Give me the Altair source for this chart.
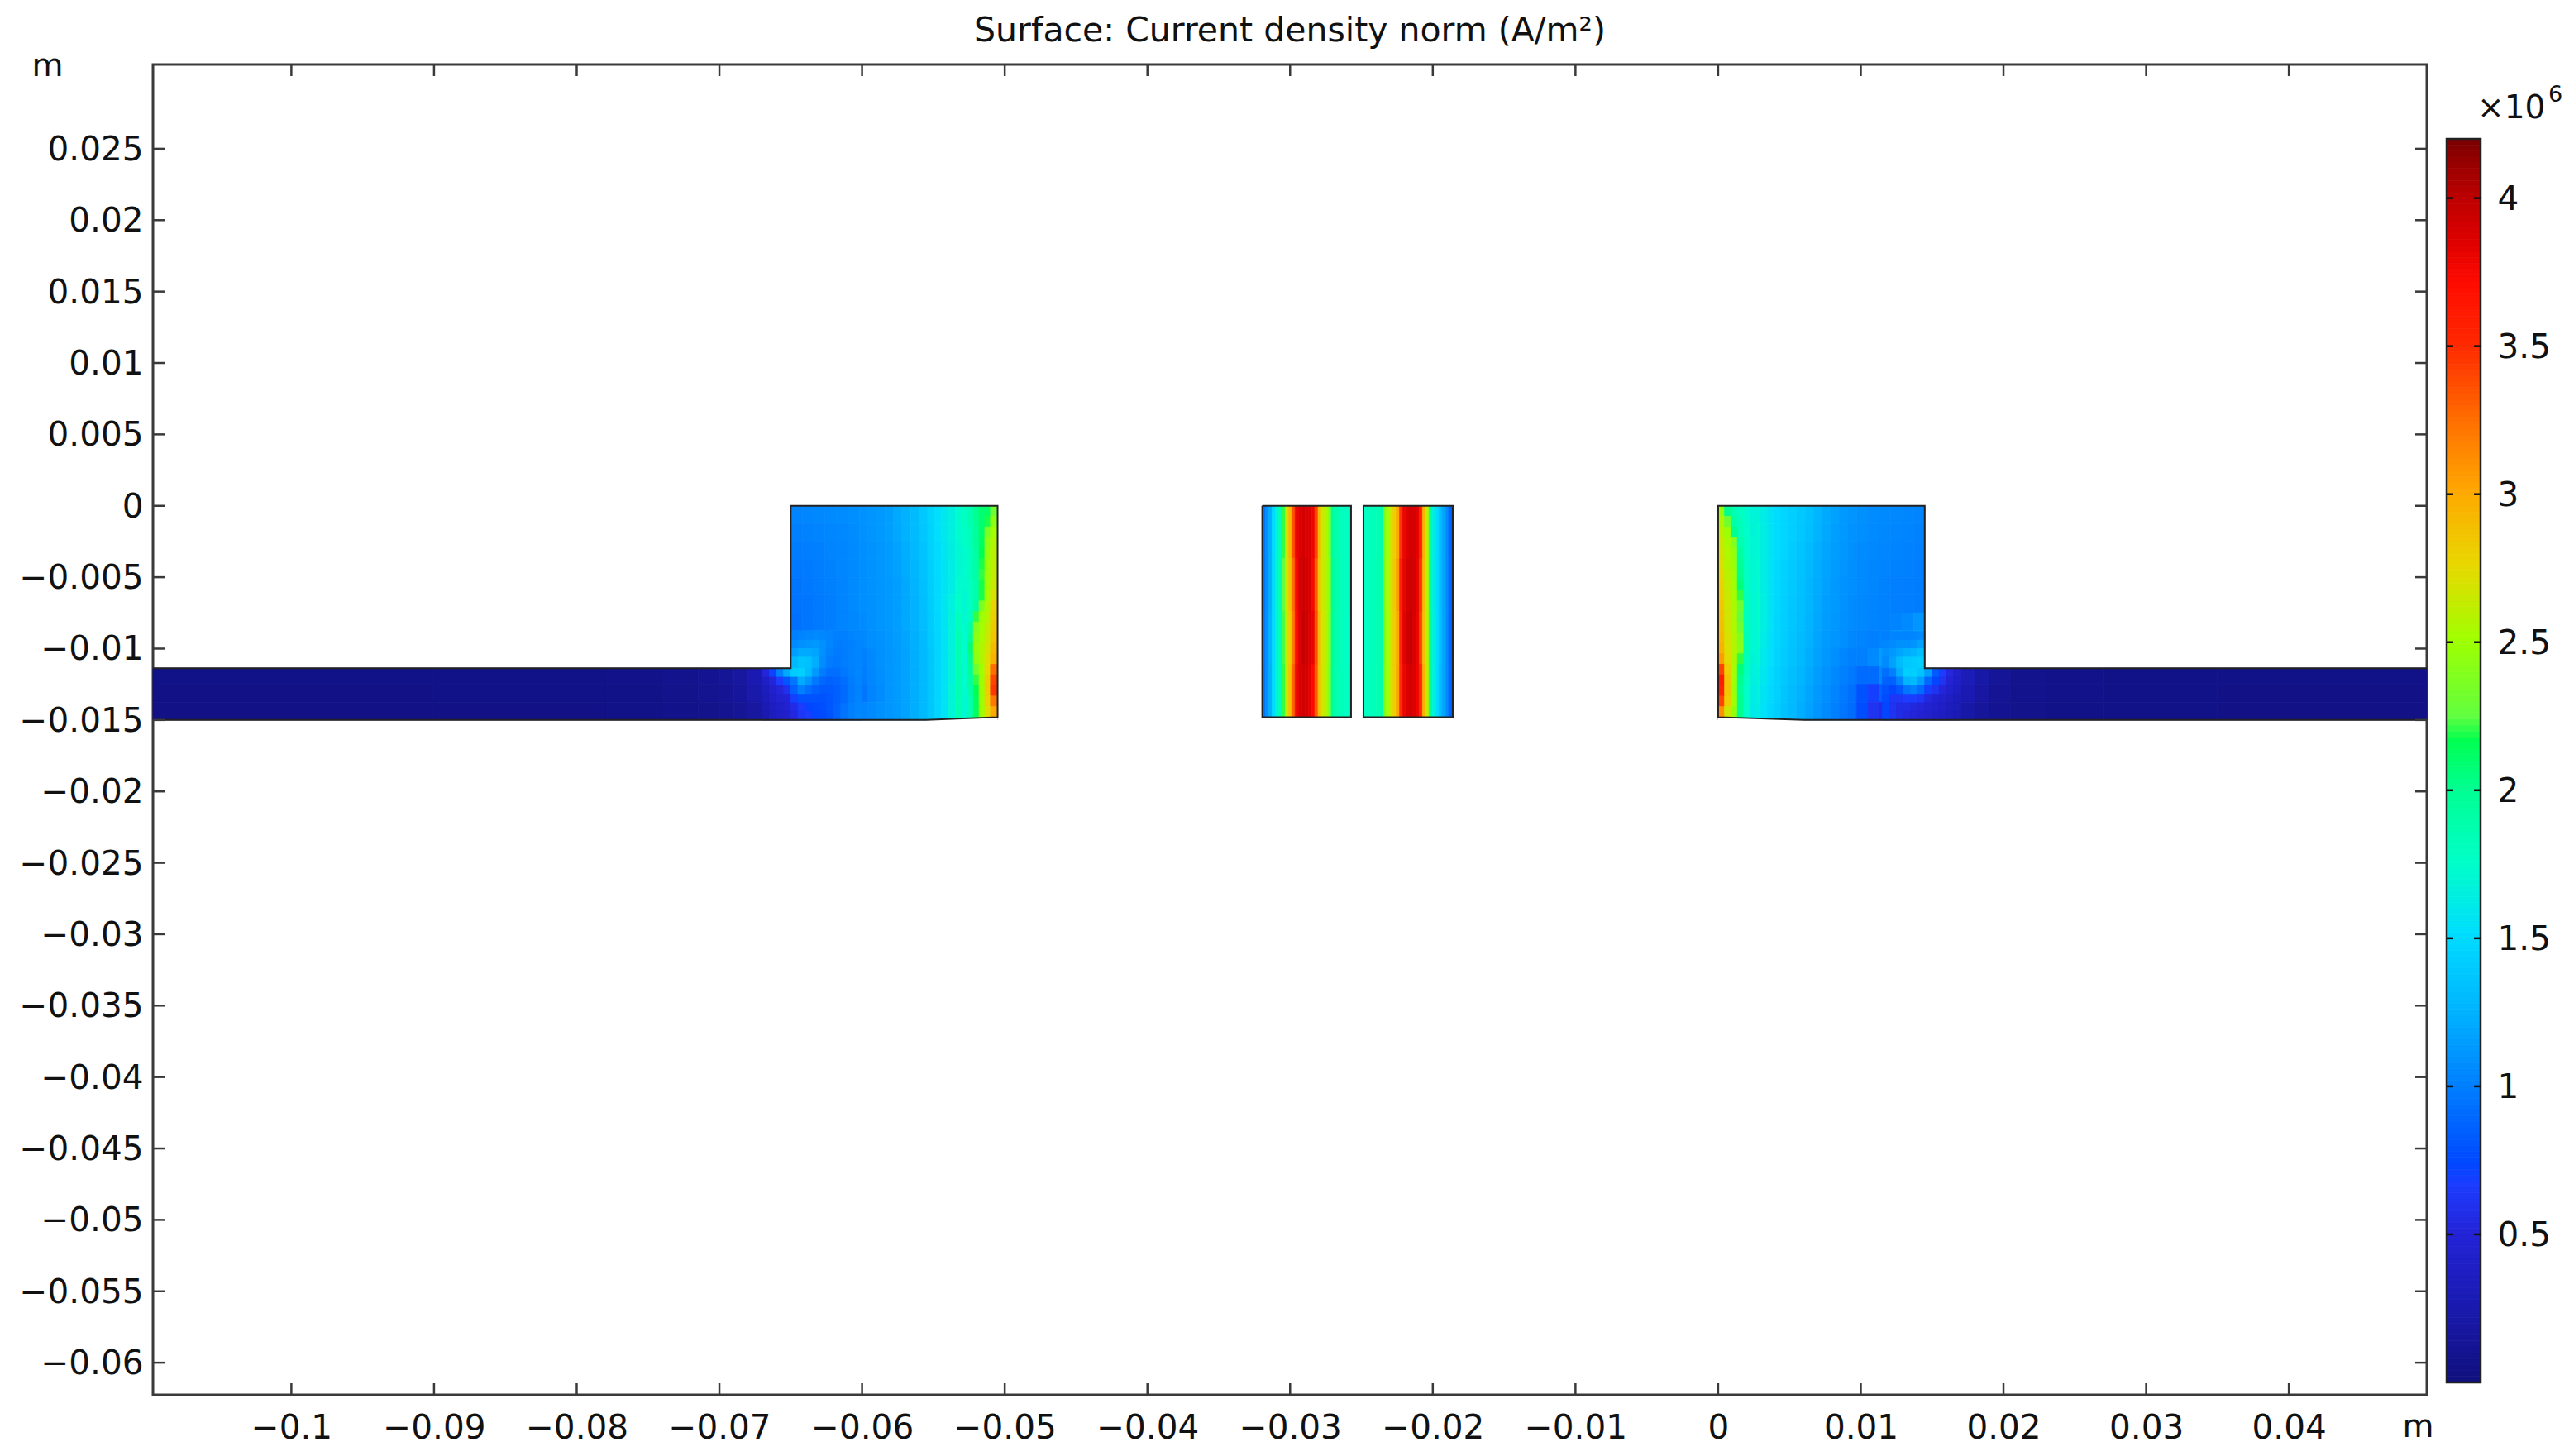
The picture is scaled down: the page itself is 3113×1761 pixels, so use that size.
import altair as alt

FONT = "DejaVu Sans"
INK = "#111111"
LINE = "#3a3a3a"
W, H = 2750, 1609

x_domain = [-0.1097, 0.04967]
y_domain = [-0.06225, 0.0309]
x_ticks = [-0.1, -0.09, -0.08, -0.07, -0.06, -0.05, -0.04, -0.03, -0.02, -0.01, 0, 0.01, 0.02, 0.03, 0.04]
y_ticks = [0.025, 0.02, 0.015, 0.01, 0.005, 0, -0.005, -0.01, -0.015, -0.02, -0.025, -0.03, -0.035,
           -0.04, -0.045, -0.05, -0.055, -0.06]

title_text = "Surface: Current density norm (A/m²)"
unit_text = "m"
cbar_base = "×10"
cbar_exp = "6"
cbar_ticks = [0.5, 1, 1.5, 2, 2.5, 3, 3.5, 4]
cbar_range = [0, 4.2]

# colour map (units of 1e6 A/m2)
cmap_values = [0, 0.25, 0.5, 0.66, 0.73, 1, 1.25, 1.5, 1.75, 2, 2.16, 2.24, 2.5, 2.75, 3, 3.25, 3.5, 3.7, 3.85, 4, 4.2]
cmap_colors = ["#10107e", "#1a1ab0", "#2424d8", "#1c3cff", "#0048ff", "#0080ff", "#00b4ff", "#00dcff", "#00ffc8",
               "#00ff90", "#00ff50", "#60ff40", "#a0ff00", "#e8d800", "#ffa800", "#ff6c00", "#ff2800", "#ff0c00",
               "#dd0000", "#bb0000", "#780000"]

# shared row edges of the two large blocks: nine upper rows, three rows that also run through the strips
block_y = [0, -0.00125, -0.0025, -0.00375, -0.005, -0.00625, -0.0075, -0.00875, -0.01, -0.01125,
           -0.0125, -0.01375, -0.015]

left_block_x = [-0.065, -0.0642, -0.0634, -0.0626, -0.0618, -0.061, -0.0602, -0.0596, -0.059, -0.0584, -0.0578,
                -0.0572, -0.0566, -0.056, -0.0554, -0.05491, -0.05442, -0.05393, -0.05344, -0.05295, -0.05246,
                -0.05197, -0.05148, -0.05099, -0.0505]
left_block = [
    [1.02, 1.03, 1.04, 1.05, 1.06, 1.07, 1.09, 1.10, 1.12, 1.15, 1.20, 1.24, 1.30, 1.38, 1.45, 1.52, 1.58, 1.64, 1.72, 1.83, 1.95, 2.08, 2.25, 2.48],
    [1.00, 1.01, 1.02, 1.03, 1.04, 1.06, 1.08, 1.10, 1.12, 1.15, 1.19, 1.24, 1.30, 1.37, 1.44, 1.52, 1.58, 1.64, 1.72, 1.83, 1.95, 2.12, 2.42, 2.55],
    [0.98, 0.99, 1.00, 1.02, 1.03, 1.05, 1.07, 1.09, 1.11, 1.13, 1.17, 1.22, 1.28, 1.35, 1.43, 1.50, 1.57, 1.63, 1.70, 1.82, 2.00, 2.25, 2.48, 2.62],
    [0.96, 0.97, 0.99, 1.01, 1.03, 1.05, 1.07, 1.09, 1.11, 1.13, 1.16, 1.21, 1.27, 1.34, 1.42, 1.50, 1.56, 1.62, 1.70, 1.84, 2.05, 2.35, 2.52, 2.68],
    [0.95, 0.96, 0.98, 1.00, 1.02, 1.05, 1.07, 1.09, 1.10, 1.12, 1.15, 1.19, 1.25, 1.33, 1.41, 1.49, 1.56, 1.62, 1.72, 1.90, 2.10, 2.42, 2.55, 2.72],
    [0.94, 0.95, 0.97, 0.99, 1.02, 1.05, 1.07, 1.08, 1.10, 1.12, 1.15, 1.19, 1.24, 1.32, 1.40, 1.49, 1.57, 1.65, 1.75, 1.95, 2.20, 2.48, 2.62, 2.80],
    [0.93, 0.95, 0.97, 0.99, 1.02, 1.04, 1.06, 1.08, 1.10, 1.12, 1.15, 1.19, 1.24, 1.31, 1.39, 1.48, 1.56, 1.66, 1.80, 2.05, 2.42, 2.58, 2.75, 2.92],
    [1.00, 1.03, 1.05, 1.03, 1.00, 1.02, 1.04, 1.07, 1.09, 1.11, 1.14, 1.18, 1.23, 1.30, 1.38, 1.47, 1.55, 1.66, 1.85, 2.25, 2.48, 2.62, 2.80, 3.00],
    [1.20, 1.25, 1.22, 1.10, 0.98, 0.97, 1.00, 1.04, 1.08, 1.10, 1.13, 1.17, 1.22, 1.29, 1.37, 1.46, 1.55, 1.66, 1.85, 2.30, 2.50, 2.70, 2.90, 3.15],
    [1.35, 1.45, 1.28, 1.05, 0.90, 0.92, 0.98, 1.03, 1.07, 1.10, 1.13, 1.17, 1.22, 1.29, 1.37, 1.46, 1.55, 1.66, 1.85, 2.22, 2.48, 2.75, 3.05, 3.40],
    [0.75, 0.95, 0.92, 0.82, 0.82, 0.88, 0.95, 1.02, 1.06, 1.10, 1.13, 1.17, 1.22, 1.29, 1.37, 1.46, 1.55, 1.68, 1.85, 2.10, 2.48, 2.80, 3.10, 3.45],
    [0.50, 0.62, 0.72, 0.80, 0.90, 0.98, 1.02, 1.05, 1.08, 1.10, 1.13, 1.17, 1.22, 1.29, 1.37, 1.46, 1.55, 1.68, 1.85, 2.10, 2.42, 2.75, 2.95, 3.10],
]

right_block_x = [0, 0.00049, 0.00098, 0.00147, 0.00196, 0.00245, 0.00294, 0.00343, 0.00392, 0.00441, 0.0049,
                 0.0055, 0.0061, 0.0067, 0.0073, 0.0079, 0.0085, 0.0091, 0.0097, 0.0105, 0.0113, 0.0121,
                 0.0129, 0.0137, 0.01448]
right_block = [
    [2.40, 2.12, 2.00, 1.88, 1.78, 1.68, 1.62, 1.55, 1.50, 1.46, 1.42, 1.38, 1.33, 1.26, 1.20, 1.16, 1.12, 1.10, 1.08, 1.06, 1.05, 1.04, 1.03, 1.02],
    [2.60, 2.45, 2.12, 1.95, 1.80, 1.70, 1.63, 1.56, 1.50, 1.46, 1.42, 1.37, 1.32, 1.25, 1.19, 1.15, 1.12, 1.09, 1.07, 1.05, 1.04, 1.03, 1.02, 1.01],
    [2.68, 2.48, 2.30, 1.98, 1.82, 1.70, 1.63, 1.56, 1.50, 1.46, 1.40, 1.35, 1.30, 1.23, 1.18, 1.14, 1.11, 1.08, 1.06, 1.04, 1.03, 1.02, 1.01, 1.00],
    [2.72, 2.50, 2.38, 2.00, 1.84, 1.72, 1.63, 1.55, 1.49, 1.44, 1.39, 1.34, 1.28, 1.22, 1.17, 1.13, 1.10, 1.07, 1.05, 1.03, 1.02, 1.01, 1.00, 0.99],
    [2.75, 2.55, 2.42, 2.10, 1.85, 1.72, 1.63, 1.55, 1.48, 1.43, 1.38, 1.33, 1.27, 1.21, 1.16, 1.12, 1.09, 1.07, 1.05, 1.03, 1.01, 1.00, 0.99, 0.98],
    [2.85, 2.60, 2.45, 2.20, 1.90, 1.74, 1.64, 1.55, 1.48, 1.42, 1.37, 1.32, 1.26, 1.20, 1.15, 1.12, 1.09, 1.06, 1.04, 1.02, 1.01, 1.00, 0.99, 0.98],
    [2.90, 2.62, 2.47, 2.15, 1.90, 1.74, 1.64, 1.54, 1.47, 1.42, 1.36, 1.31, 1.25, 1.19, 1.14, 1.11, 1.08, 1.06, 1.04, 1.02, 1.01, 1.02, 1.05, 1.10],
    [3.00, 2.70, 2.48, 2.25, 1.90, 1.72, 1.62, 1.53, 1.46, 1.41, 1.35, 1.30, 1.24, 1.18, 1.13, 1.10, 1.07, 1.04, 1.02, 1.00, 1.03, 1.15, 1.10, 1.15],
    [3.15, 2.80, 2.50, 2.20, 1.88, 1.70, 1.60, 1.52, 1.45, 1.40, 1.34, 1.29, 1.22, 1.16, 1.11, 1.07, 1.03, 1.00, 1.00, 1.05, 1.15, 1.30, 1.35, 1.35],
    [3.55, 2.85, 2.48, 2.12, 1.85, 1.68, 1.58, 1.50, 1.44, 1.38, 1.32, 1.26, 1.20, 1.14, 1.09, 1.04, 1.00, 0.96, 0.90, 0.90, 1.05, 1.28, 1.42, 1.25],
    [3.50, 2.80, 2.45, 2.05, 1.82, 1.66, 1.56, 1.49, 1.43, 1.36, 1.30, 1.24, 1.18, 1.12, 1.07, 1.02, 0.97, 0.92, 0.78, 0.68, 0.85, 1.00, 1.05, 0.80],
    [3.10, 2.65, 2.35, 1.98, 1.78, 1.63, 1.54, 1.47, 1.41, 1.34, 1.28, 1.22, 1.16, 1.10, 1.05, 1.00, 0.95, 0.90, 0.75, 0.60, 0.55, 0.60, 0.62, 0.55],
]

strip_y = [-0.01138, -0.0125, -0.01375, -0.015]
left_strip_x = [-0.1097, -0.09, -0.078, -0.074, -0.0715, -0.07, -0.069, -0.068, -0.067, -0.066, -0.0655, -0.065]
left_strip = [
    [0.05, 0.05, 0.06, 0.08, 0.10, 0.13, 0.17, 0.26, 0.45, 0.85, 1.20],
    [0.04, 0.05, 0.05, 0.07, 0.09, 0.11, 0.15, 0.22, 0.35, 0.48, 0.62],
    [0.04, 0.04, 0.05, 0.06, 0.07, 0.09, 0.12, 0.17, 0.27, 0.36, 0.44],
]
right_strip_x = [0.01448, 0.015, 0.0155, 0.016, 0.017, 0.018, 0.019, 0.0205, 0.023, 0.027, 0.035, 0.04967]
right_strip = [
    [1.10, 0.72, 0.58, 0.42, 0.30, 0.20, 0.13, 0.08, 0.06, 0.05, 0.05],
    [0.70, 0.50, 0.42, 0.34, 0.26, 0.18, 0.11, 0.08, 0.06, 0.05, 0.04],
    [0.50, 0.42, 0.36, 0.28, 0.20, 0.14, 0.10, 0.07, 0.05, 0.05, 0.04],
]

# finer readings around the re-entrant corners (None = outside the conductor)
corner_y = [-0.0088, -0.0094, -0.01, -0.0106, -0.01138, -0.012, -0.0126, -0.0132, -0.0138, -0.0144, -0.015]
left_corner_x = [-0.067, -0.0665, -0.066, -0.0655, -0.065, -0.0645, -0.064, -0.0635, -0.063, -0.0625, -0.062,
                 -0.0615, -0.061, -0.0605, -0.06]
left_corner = [
    [None, None, None, None, 1.00, 1.02, 1.04, 1.05, 1.04, 1.02, 1.00, 1.00, 1.02, 1.04],
    [None, None, None, None, 1.05, 1.08, 1.10, 1.12, 1.08, 1.03, 0.99, 0.99, 1.01, 1.03],
    [None, None, None, None, 1.15, 1.20, 1.20, 1.18, 1.08, 1.01, 0.97, 0.98, 1.01, 1.03],
    [None, None, None, None, 1.28, 1.35, 1.33, 1.22, 1.06, 0.98, 0.96, 0.98, 1.01, 1.03],
    [0.50, 0.70, 1.00, 1.20, 1.40, 1.42, 1.30, 1.12, 0.98, 0.92, 0.92, 0.96, 1.00, 1.03],
    [0.38, 0.50, 0.66, 0.80, 0.95, 1.20, 1.10, 0.96, 0.88, 0.85, 0.87, 0.92, 0.98, 1.02],
    [0.33, 0.42, 0.50, 0.58, 0.85, 1.00, 0.92, 0.85, 0.82, 0.82, 0.84, 0.90, 0.97, 1.01],
    [0.30, 0.38, 0.44, 0.48, 0.68, 0.78, 0.78, 0.78, 0.78, 0.80, 0.84, 0.90, 0.97, 1.02],
    [0.27, 0.34, 0.40, 0.44, 0.55, 0.65, 0.72, 0.74, 0.76, 0.80, 0.86, 0.94, 1.00, 1.03],
    [0.25, 0.32, 0.38, 0.42, 0.52, 0.62, 0.66, 0.72, 0.74, 0.78, 0.86, 0.95, 1.00, 1.04],
]
right_corner_x = [0.0115, 0.012, 0.0125, 0.013, 0.0135, 0.014, 0.01448, 0.015, 0.0155, 0.016, 0.0165, 0.017]
right_corner = [
    [1.00, 1.02, 1.02, 1.02, 1.03, 1.05, None, None, None, None, None],
    [1.03, 1.06, 1.08, 1.08, 1.10, 1.16, None, None, None, None, None],
    [1.08, 1.12, 1.18, 1.22, 1.25, 1.32, None, None, None, None, None],
    [1.05, 1.16, 1.30, 1.38, 1.40, 1.42, None, None, None, None, None],
    [0.92, 1.00, 1.22, 1.42, 1.42, 1.35, 1.15, 0.82, 0.66, 0.52, 0.42],
    [0.85, 0.85, 1.02, 1.25, 1.28, 1.15, 0.88, 0.72, 0.60, 0.48, 0.40],
    [0.78, 0.72, 0.80, 0.95, 1.00, 0.90, 0.68, 0.60, 0.50, 0.42, 0.36],
    [0.74, 0.62, 0.62, 0.66, 0.66, 0.62, 0.52, 0.46, 0.42, 0.36, 0.31],
    [0.72, 0.60, 0.55, 0.55, 0.52, 0.50, 0.45, 0.42, 0.38, 0.33, 0.29],
    [0.72, 0.60, 0.55, 0.52, 0.50, 0.46, 0.42, 0.38, 0.35, 0.31, 0.27],
]

# finer readings along the hot inner edges of the blocks
edge_y = [0, -0.00074, -0.00148, -0.00222, -0.00296, -0.0037, -0.00444, -0.00518, -0.00592, -0.00666, -0.0074,
          -0.00814, -0.00888, -0.00962, -0.01036, -0.0111, -0.01184, -0.01258, -0.01332, -0.01406, -0.0148]
left_edge_x = [-0.053, -0.0526, -0.0522, -0.0518, -0.0514, -0.051, -0.0505]
left_edge = [
    [1.78, 1.85, 2.00, 2.08, 2.10, 2.30],
    [1.78, 1.85, 1.98, 2.08, 2.18, 2.42],
    [1.75, 1.82, 1.95, 2.10, 2.35, 2.50],
    [1.75, 1.82, 1.95, 2.12, 2.42, 2.55],
    [1.72, 1.80, 1.92, 2.15, 2.45, 2.58],
    [1.72, 1.80, 1.90, 2.18, 2.48, 2.60],
    [1.72, 1.80, 1.90, 2.20, 2.48, 2.62],
    [1.72, 1.78, 1.88, 2.18, 2.50, 2.65],
    [1.70, 1.78, 1.88, 2.18, 2.52, 2.70],
    [1.70, 1.78, 1.92, 2.35, 2.55, 2.78],
    [1.70, 1.80, 2.20, 2.48, 2.58, 2.80],
    [1.72, 1.88, 2.38, 2.50, 2.62, 2.82],
    [1.72, 1.95, 2.42, 2.52, 2.65, 2.85],
    [1.72, 2.05, 2.45, 2.55, 2.68, 2.90],
    [1.72, 2.00, 2.42, 2.55, 2.72, 2.95],
    [1.72, 1.95, 2.30, 2.50, 2.75, 3.25],
    [1.72, 1.92, 2.20, 2.48, 2.80, 3.40],
    [1.72, 1.88, 2.15, 2.48, 2.80, 3.45],
    [1.70, 1.85, 2.12, 2.48, 2.78, 3.20],
    [1.70, 1.85, 2.12, 2.48, 2.72, 3.00],
]
right_edge_x = [0, 0.00045, 0.0009, 0.00135, 0.0018, 0.00225, 0.0027]
right_edge = [
    [2.45, 2.00, 1.85, 1.78, 1.72, 1.67],
    [2.55, 2.30, 1.90, 1.80, 1.73, 1.68],
    [2.60, 2.48, 2.00, 1.82, 1.74, 1.68],
    [2.65, 2.52, 2.38, 1.86, 1.75, 1.69],
    [2.68, 2.54, 2.45, 1.92, 1.76, 1.69],
    [2.70, 2.55, 2.46, 1.96, 1.77, 1.70],
    [2.74, 2.58, 2.48, 2.00, 1.78, 1.70],
    [2.78, 2.60, 2.50, 2.05, 1.78, 1.70],
    [2.80, 2.62, 2.52, 2.20, 1.80, 1.70],
    [2.84, 2.65, 2.53, 2.30, 1.82, 1.70],
    [2.86, 2.66, 2.54, 2.25, 1.80, 1.70],
    [2.88, 2.66, 2.54, 2.30, 1.82, 1.70],
    [2.90, 2.68, 2.55, 2.38, 1.84, 1.70],
    [2.95, 2.70, 2.56, 2.40, 1.85, 1.70],
    [3.05, 2.72, 2.55, 2.20, 1.82, 1.68],
    [3.40, 2.80, 2.52, 2.05, 1.80, 1.66],
    [3.60, 2.85, 2.50, 2.00, 1.78, 1.64],
    [3.55, 2.85, 2.48, 1.95, 1.76, 1.62],
    [3.40, 2.80, 2.50, 2.00, 1.75, 1.62],
    [3.10, 2.65, 2.45, 2.00, 1.74, 1.60],
]

coil_y = [0, -0.0037, -0.0074, -0.0111, -0.0148]
coil1_x = [-0.03195, -0.03172, -0.03149, -0.03126, -0.03103, -0.0308, -0.03057, -0.03034, -0.03011, -0.02988,
           -0.02965, -0.02942, -0.02919, -0.02896, -0.02873, -0.0285, -0.02827, -0.02804, -0.02781, -0.02758,
           -0.02735, -0.02712, -0.02689, -0.02666, -0.02643, -0.0262, -0.02597, -0.02573]
coil1 = [
    [0.95, 1.08, 1.22, 1.50, 1.65, 1.85, 2.20, 2.65, 2.90, 3.35, 3.78, 3.85, 3.90, 3.85, 3.85, 3.78, 3.40, 2.90, 2.65, 2.55, 2.42, 1.95, 1.87, 1.85, 1.80, 1.78, 1.76],
    [0.95, 1.07, 1.23, 1.50, 1.66, 1.86, 2.25, 2.62, 2.85, 3.25, 3.72, 3.88, 3.92, 3.90, 3.86, 3.75, 3.30, 2.85, 2.65, 2.55, 2.45, 1.98, 1.88, 1.85, 1.81, 1.78, 1.76],
    [0.96, 1.08, 1.24, 1.50, 1.65, 1.84, 2.22, 2.60, 2.80, 3.20, 3.70, 3.85, 3.95, 3.92, 3.85, 3.80, 3.35, 2.90, 2.68, 2.56, 2.42, 1.96, 1.87, 1.84, 1.80, 1.77, 1.75],
    [0.95, 1.08, 1.23, 1.51, 1.66, 1.85, 2.20, 2.62, 2.85, 3.28, 3.75, 3.87, 3.90, 3.88, 3.82, 3.72, 3.30, 2.88, 2.66, 2.55, 2.40, 1.95, 1.86, 1.84, 1.80, 1.78, 1.76],
]
coil2_x = [-0.02486, -0.02463, -0.0244, -0.02417, -0.02394, -0.02371, -0.02348, -0.02325, -0.02302, -0.02279,
           -0.02256, -0.02233, -0.0221, -0.02187, -0.02164, -0.02141, -0.02118, -0.02095, -0.02072, -0.02049,
           -0.02026, -0.02003, -0.0198, -0.01957, -0.01934, -0.01911, -0.01888, -0.0186]
coil2 = [
    [1.76, 1.78, 1.80, 1.82, 1.84, 1.88, 2.35, 2.50, 2.65, 2.80, 3.00, 3.45, 3.78, 3.85, 3.90, 3.88, 3.82, 3.55, 2.95, 2.60, 1.95, 1.62, 1.50, 1.32, 1.18, 1.05, 0.85],
    [1.76, 1.78, 1.80, 1.82, 1.85, 1.90, 2.38, 2.52, 2.66, 2.82, 3.05, 3.55, 3.80, 3.90, 3.92, 3.90, 3.80, 3.45, 2.90, 2.58, 1.95, 1.62, 1.50, 1.32, 1.18, 1.05, 0.86],
    [1.76, 1.77, 1.80, 1.82, 1.84, 1.88, 2.36, 2.50, 2.64, 2.80, 3.00, 3.50, 3.82, 3.92, 3.95, 3.88, 3.78, 3.40, 2.88, 2.60, 1.98, 1.64, 1.50, 1.33, 1.18, 1.05, 0.85],
    [1.77, 1.78, 1.80, 1.82, 1.84, 1.89, 2.35, 2.50, 2.65, 2.80, 3.02, 3.48, 3.78, 3.86, 3.90, 3.85, 3.78, 3.50, 2.95, 2.62, 2.00, 1.65, 1.50, 1.32, 1.18, 1.05, 0.85],
]

# boundary polylines of the conducting regions
outline_id = ["L"] * 7 + ["C1"] * 5 + ["C2"] * 5 + ["R"] * 7
outline_x = [-0.1097, -0.065, -0.065, -0.0505, -0.0505, -0.0555, -0.1097,
             -0.03195, -0.02573, -0.02573, -0.03195, -0.03195,
             -0.02486, -0.0186, -0.0186, -0.02486, -0.02486,
             0.04967, 0.01448, 0.01448, 0, 0, 0.006, 0.04967]
outline_y = [-0.01138, -0.01138, 0, 0, -0.0148, -0.015, -0.015,
             0, 0, -0.0148, -0.0148, 0,
             0, 0, -0.0148, -0.0148, 0,
             -0.01138, -0.01138, 0, 0, -0.0148, -0.015, -0.015]

# small wedge outside the rising lower edge of the blocks
wedge_id = ["L", "L", "R", "R"]
wedge_x = [-0.0555, -0.0505, 0, 0.006]
wedge_top = [-0.015, -0.0148, -0.0148, -0.015]
wedge_bot = [-0.0155, -0.0155, -0.0155, -0.0155]


def cells(xe, ye, rows):
    return [
        {"x0": xe[i], "x1": xe[i + 1], "y0": ye[j], "y1": ye[j + 1], "J": v}
        for j, row in enumerate(rows) for i, v in enumerate(row) if v is not None
    ]


field = (
    cells(left_block_x, block_y, left_block)
    + cells(right_block_x, block_y, right_block)
    + cells(left_strip_x, strip_y, left_strip)
    + cells(right_strip_x, strip_y, right_strip)
    + cells(left_corner_x, corner_y, left_corner)
    + cells(right_corner_x, corner_y, right_corner)
    + cells(left_edge_x, edge_y, left_edge)
    + cells(right_edge_x, edge_y, right_edge)
    + cells(coil1_x, coil_y, coil1)
    + cells(coil2_x, coil_y, coil2)
)

xs = alt.Scale(domain=x_domain, nice=False, zero=False)
ys = alt.Scale(domain=y_domain, nice=False, zero=False)
cs = alt.Scale(domain=cmap_values, range=cmap_colors, interpolate="rgb", clamp=True)
cb_scale = alt.Scale(domain=cbar_range, range=[1594, 90], nice=False, zero=False)

x_axis = alt.Axis(values=x_ticks, format=".2~f", title=None, grid=False, ticks=False, domain=False,
                  labelFont=FONT, labelFontSize=40.5, labelColor=INK, labelPadding=20, labelOverlap=False,
                  labelFlush=False)
y_axis = alt.Axis(values=y_ticks, format=".3~f", title=None, grid=False, ticks=False, domain=False,
                  labelFont=FONT, labelFontSize=40.5, labelColor=INK, labelPadding=12, labelOverlap=False,
                  labelFlush=False, labelOffset=1.5)
cb_axis = alt.Axis(orient="right", offset=85, values=cbar_ticks, format=".2~g", title=None, grid=False,
                   ticks=False, domain=False, labelFont=FONT, labelFontSize=40.5, labelColor=INK, labelPadding=0,
                   labelOverlap=False, labelFlush=False, labelOffset=2)

field_layer = alt.Chart(alt.Data(values=field)).mark_rect(strokeWidth=0.8).encode(
    x=alt.X("x0:Q", scale=xs, axis=x_axis),
    x2="x1:Q",
    y=alt.Y("y0:Q", scale=ys, axis=y_axis),
    y2="y1:Q",
    color=alt.Color("J:Q", scale=cs, legend=None),
    stroke=alt.Stroke("J:Q", scale=cs, legend=None),
)

wedge_rows = [{"id": a, "x": b, "t": c, "b": d} for a, b, c, d in zip(wedge_id, wedge_x, wedge_top, wedge_bot)]
wedge_layer = alt.Chart(alt.Data(values=wedge_rows)).mark_area(color="white", line=False).encode(
    x=alt.X("x:Q", scale=xs, axis=x_axis),
    y=alt.Y("t:Q", scale=ys, axis=None),
    y2="b:Q",
    detail="id:N",
)

outline_rows = [{"id": a, "x": b, "y": c, "o": i} for i, (a, b, c) in enumerate(zip(outline_id, outline_x, outline_y))]
outline_layer = alt.Chart(alt.Data(values=outline_rows)).mark_line(color="#222222", strokeWidth=2).encode(
    x=alt.X("x:Q", scale=xs, axis=x_axis),
    y=alt.Y("y:Q", scale=ys, axis=None),
    detail="id:N",
    order="o:Q",
)

yt = alt.Chart(alt.Data(values=[{"v": v} for v in y_ticks]))
xt = alt.Chart(alt.Data(values=[{"v": v} for v in x_ticks]))
tick_style = dict(color=LINE, strokeWidth=2.5)


def yticks(a, b):
    return yt.mark_rule(**tick_style).encode(
        y=alt.Y("v:Q", scale=ys, axis=None), x=alt.value(a), x2=alt.value(b))


def xticks(a, b):
    return xt.mark_rule(**tick_style).encode(
        x=alt.X("v:Q", scale=xs, axis=x_axis), y=alt.value(a), y2=alt.value(b))


# colour bar: thin slices through the same colour scale, its own position scale and label axis
cb_levels = [round(i * 0.02, 2) for i in range(210)]
cb_rows = [{"a": v, "b": round(v + 0.02, 2)} for v in cb_levels]
cbar_layer = alt.Chart(alt.Data(values=cb_rows)).mark_rect(strokeWidth=0.8).encode(
    y=alt.Y("a:Q", scale=cb_scale, axis=cb_axis),
    y2="b:Q",
    x=alt.value(2774),
    x2=alt.value(2815),
    color=alt.Color("a:Q", scale=cs, legend=None),
    stroke=alt.Stroke("a:Q", scale=cs, legend=None),
)
cbar_frame = alt.Chart(alt.Data(values=[{"a": cbar_range[0], "b": cbar_range[1]}])).mark_rect(
    fillOpacity=0, stroke="#222222", strokeWidth=2.5
).encode(
    y=alt.Y("a:Q", scale=cb_scale, axis=None),
    y2="b:Q",
    x=alt.value(2774),
    x2=alt.value(2815),
)
cb = alt.Chart(alt.Data(values=[{"v": v} for v in cbar_ticks]))


def cbticks(a, b):
    return cb.mark_rule(color="#111111", strokeWidth=2.5).encode(
        y=alt.Y("v:Q", scale=cb_scale, axis=None), x=alt.value(a), x2=alt.value(b))


def label(text, x, y, size=39):
    return alt.Chart(alt.Data(values=[{"t": text}])).mark_text(
        font=FONT, fontSize=size, color=INK, align="left", baseline="alphabetic"
    ).encode(text="t:N", x=alt.value(x), y=alt.value(y))


chart = alt.layer(
    field_layer,
    wedge_layer,
    outline_layer,
    yticks(0, 14),
    yticks(W, W - 14),
    xticks(0, 14),
    xticks(H, H - 14),
    cbar_layer,
    cbar_frame,
    cbticks(2774, 2782),
    cbticks(2815, 2807),
    label(unit_text, -146.5, 14),
    label(unit_text, 2720.5, 1660),
    label(cbar_base, 2811, 65),
    label(cbar_exp, 2897, 45, 27),
).resolve_scale(y="independent").properties(
    width=W,
    height=H,
    padding={"left": 177, "top": 70, "right": 170, "bottom": 64},
    autosize=alt.AutoSizeParams(type="none"),
    background="white",
    title=alt.TitleParams(title_text, font=FONT, fontSize=41, fontWeight="normal", color=INK,
                          anchor="middle", offset=2),
).configure_view(stroke=LINE, strokeWidth=3)

chart.save("out.html", embed_options={"renderer": "svg", "actions": False})
